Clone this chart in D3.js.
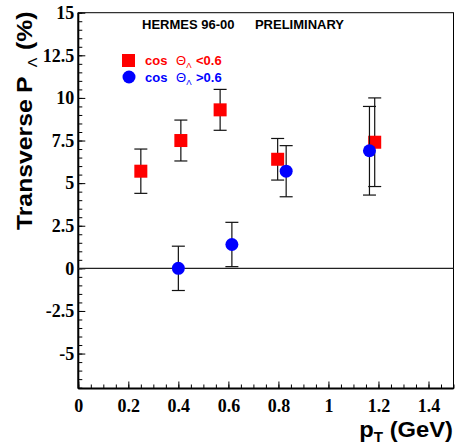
<!DOCTYPE html>
<html>
<head>
<meta charset="utf-8">
<script src="https://cdn.jsdelivr.net/npm/d3@7/dist/d3.min.js"></script>
<style>
  body { margin: 0; background: #fff; }
  svg { display: block; }
</style>
</head>
<body>
<div id="chart"></div>
<script>
// data
var redX   = [0.25, 0.41, 0.567, 0.797, 1.185];
var redY   = [5.7, 7.5, 9.3, 6.4, 7.4];
var redErr = [1.3, 1.2, 1.2, 1.22, 2.6];

var blueX   = [0.40, 0.614, 0.831, 1.164];
var blueY   = [0.0, 1.4, 5.7, 6.9];
var blueErr = [1.3, 1.3, 1.5, 2.6];

var xTicks = [0, 0.2, 0.4, 0.6, 0.8, 1, 1.2, 1.4];
var xTickLabels = ["0", "0.2", "0.4", "0.6", "0.8", "1", "1.2", "1.4"];
var yTicks = [-5, -2.5, 0, 2.5, 5, 7.5, 10, 12.5, 15];
var yTickLabels = ["-5", "-2.5", "0", "2.5", "5", "7.5", "10", "12.5", "15"];

var W = 455, H = 447;
var margin = {top: 12.7, right: 1.5, bottom: 58.5, left: 78.3},
  width = W - margin.left - margin.right,
  height = H - margin.top - margin.bottom;

var x = d3.scaleLinear().domain([0, 1.5]).range([0, width]);
var y = d3.scaleLinear().domain([-7.05, 15]).range([height, 0]);

var svg = d3.select("#chart").append("svg")
  .attr("width", W)
  .attr("height", H)
  .append("g")
  .attr("transform", "translate(" + margin.left + "," + margin.top + ")");

// frame
svg.append("rect")
  .attr("width", width).attr("height", height)
  .attr("fill", "none").attr("stroke", "#000").attr("stroke-width", 1);

// minor ticks
var xMinor = d3.range(0, 1.5001, 0.05);
var yMinor = d3.range(-7, 15.001, 0.5);

svg.append("g")
  .attr("transform", "translate(0," + height + ")")
  .call(d3.axisBottom(x).tickValues(xMinor).tickSize(-4).tickFormat(""))
  .call(function(g) { g.select(".domain").remove(); });

svg.append("g")
  .call(d3.axisLeft(y).tickValues(yMinor).tickSize(-4).tickFormat(""))
  .call(function(g) { g.select(".domain").remove(); });

// major ticks + labels
var xAxis = svg.append("g")
  .attr("transform", "translate(0," + height + ")")
  .call(d3.axisBottom(x).tickValues(xTicks).tickSize(-7).tickPadding(11)
    .tickFormat(function(d, i) { return xTickLabels[i]; }));
xAxis.select(".domain").remove();

var yAxis = svg.append("g")
  .call(d3.axisLeft(y).tickValues(yTicks).tickSize(-7).tickPadding(4)
    .tickFormat(function(d, i) { return yTickLabels[i]; }));
yAxis.select(".domain").remove();

svg.selectAll(".tick line").attr("stroke", "#000").attr("stroke-width", 1);
svg.selectAll(".tick text")
  .attr("fill", "#000")
  .style("font-family", "'Liberation Serif', 'DejaVu Serif', serif")
  .style("font-weight", "bold")
  .style("font-size", "18px");

// thicker axis lines
svg.append("line").attr("x1", 0).attr("x2", 0).attr("y1", 0).attr("y2", height)
  .attr("stroke", "#000").attr("stroke-width", 2);
svg.append("line").attr("x1", 0).attr("x2", width).attr("y1", height).attr("y2", height)
  .attr("stroke", "#000").attr("stroke-width", 2);

// zero line
svg.append("line")
  .attr("x1", 0).attr("x2", width)
  .attr("y1", y(0)).attr("y2", y(0))
  .attr("stroke", "#222").attr("stroke-width", 1.2);

function errorBars(xs, ys, es) {
  var g = svg.append("g").attr("stroke", "#111").attr("stroke-width", 1.2);
  xs.forEach(function(xv, i) {
    var cx = x(xv), top = y(ys[i] + es[i]), bot = y(ys[i] - es[i]);
    g.append("line").attr("x1", cx).attr("x2", cx).attr("y1", top).attr("y2", bot);
    g.append("line").attr("x1", cx - 6.5).attr("x2", cx + 6.5).attr("y1", top).attr("y2", top);
    g.append("line").attr("x1", cx - 6.5).attr("x2", cx + 6.5).attr("y1", bot).attr("y2", bot);
  });
}

errorBars(redX, redY, redErr);
svg.append("g").selectAll("rect")
  .data(redX)
  .enter().append("rect")
  .attr("x", function(d) { return x(d) - 6.5; })
  .attr("y", function(d, i) { return y(redY[i]) - 6.5; })
  .attr("width", 13).attr("height", 13)
  .attr("fill", "#ff0000");

errorBars(blueX, blueY, blueErr);
svg.append("g").selectAll("circle")
  .data(blueX)
  .enter().append("circle")
  .attr("cx", function(d) { return x(d); })
  .attr("cy", function(d, i) { return y(blueY[i]); })
  .attr("r", 6.5)
  .attr("fill", "#0000ff");

// title
var root = d3.select("svg");
var sans = "'Liberation Sans', Arial, Helvetica, sans-serif";
root.append("text").attr("x", 142).attr("y", 29)
  .style("font-family", sans).style("font-weight", "bold").style("font-size", "13px")
  .text("HERMES 96-00");
root.append("text").attr("x", 344).attr("y", 29).attr("text-anchor", "end")
  .style("font-family", sans).style("font-weight", "bold").style("font-size", "13px")
  .text("PRELIMINARY");

// legend
function legendText(yy, color, sign) {
  var t = root.append("text").attr("x", 145).attr("y", yy)
    .attr("fill", color)
    .style("font-family", sans).style("font-weight", "bold").style("font-size", "13px");
  t.append("tspan").text("cos");
  t.append("tspan").attr("x", 176).style("font-weight", "normal").text("\u0398");
  t.append("tspan").attr("dy", 3).style("font-size", "8px").style("font-weight", "normal").text("\u039B");
  t.append("tspan").attr("x", 196).attr("dy", -3).text(sign + "0.6");
}
root.append("rect").attr("x", 122).attr("y", 54).attr("width", 13).attr("height", 13).attr("fill", "#ff0000");
legendText(65, "#ff0000", "<");
root.append("circle").attr("cx", 129).attr("cy", 77).attr("r", 6.5).attr("fill", "#0000ff");
legendText(82, "#0000ff", ">");

// axis titles
var yl = root.append("text")
  .attr("transform", "translate(32,230) rotate(-90) scale(1.1,1)")
  .style("font-family", sans).style("font-weight", "bold").style("font-size", "22.5px");
yl.append("tspan").attr("x", 0).text("Transverse");
yl.append("tspan").attr("x", 124.5).text("P");
yl.append("tspan").attr("x", 148).attr("dy", 5).style("font-size", "13px").style("font-weight", "normal").text("\u039B");
yl.append("tspan").attr("x", 163.6).attr("dy", -5).text("(%)");

var xl = root.append("text")
  .attr("transform", "translate(453,437) scale(1.08,1)")
  .attr("text-anchor", "end")
  .style("font-family", sans).style("font-weight", "bold").style("font-size", "22px");
xl.append("tspan").text("p");
xl.append("tspan").attr("dy", 5).style("font-size", "14px").text("T");
xl.append("tspan").attr("dy", -5).text(" (GeV)");
</script>
</body>
</html>
